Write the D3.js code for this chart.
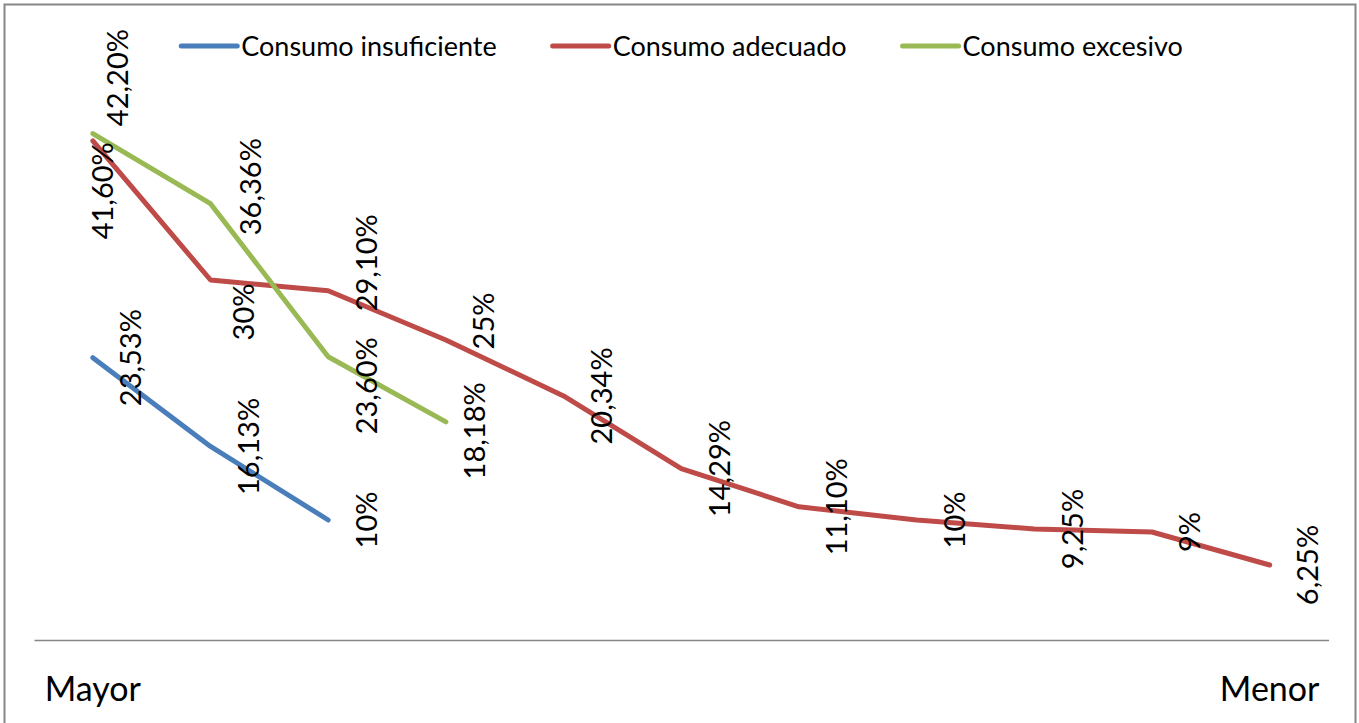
<!DOCTYPE html>
<html>
<head>
<meta charset="utf-8">
<script src="https://cdn.jsdelivr.net/npm/d3@7"></script>
<style>
  html, body { margin: 0; padding: 0; background: #fff; }
  svg { display: block; font-family: Lato, "Open Sans", sans-serif; }
</style>
</head>
<body>
<svg id="chart" width="1359" height="723"></svg>
<script>
// Ranking positions along the horizontal axis, from highest to lowest.
const ranks = [1, 2, 3, 4, 5, 6, 7, 8, 9, 10, 11];
const tickLabels = ["Mayor", "", "", "", "", "", "", "", "", "", "Menor"];

// Percentage of each consumption group at every rank position.
const seriesNames = ["Consumo insuficiente", "Consumo adecuado", "Consumo excesivo"];
const insuficiente = [23.53, 16.13, 10];
const adecuado = [41.6, 30, 29.1, 25, 20.34, 14.29, 11.1, 10, 9.25, 9, 6.25];
const excesivo = [42.2, 36.36, 23.6, 18.18];
const seriesColors = ["#4A7EBB", "#BE4B48", "#98B954"];

// Small nudges for data labels that would otherwise collide: [series, index, dx, dy].
const labelNudges = [
  [2, 0, -13, -56],
  [1, 0, -28, 50],
  [2, 1, 2, -17],
  [1, 1, -5, 32],
  [1, 2, 0, -28],
  [2, 2, 0, 29],
  [1, 3, 0, -19],
  [2, 3, -9, 9]
];

const svg = d3.select("#chart");

// Chart border
svg.append("rect")
  .attr("x", 4.5).attr("y", 4.5)
  .attr("width", 1351).attr("height", 740)
  .attr("fill", "#fff").attr("stroke", "#878787").attr("stroke-width", 2);

const plot = { left: 34, right: 1328.5, top: 40, bottom: 640 };

const x = d3.scaleBand().domain(ranks).range([plot.left, plot.right]);
const y = d3.scaleLinear().domain([0, 50]).range([plot.bottom, plot.top]);
const cx = r => x(r) + x.bandwidth() / 2;

// Category axis
const xAxis = svg.append("g")
  .attr("transform", `translate(0,${plot.bottom})`)
  .call(d3.axisBottom(x).tickSize(0).tickPadding(37)
    .tickFormat((d, i) => tickLabels[i]));
xAxis.select(".domain").attr("stroke", "#868686").attr("stroke-width", 1.5);
xAxis.selectAll("text")
  .attr("font-family", "Lato, sans-serif")
  .attr("font-size", 34)
  .attr("fill", "#000");

const allSeries = [insuficiente, adecuado, excesivo];

const line = d3.line()
  .x((d, i) => cx(ranks[i]))
  .y(d => y(d));

allSeries.forEach((vals, s) => {
  svg.append("path")
    .datum(vals)
    .attr("d", line)
    .attr("fill", "none")
    .attr("stroke", seriesColors[s])
    .attr("stroke-width", 5)
    .attr("stroke-linejoin", "round")
    .attr("stroke-linecap", "round");
});

// Data labels, rotated to read upward, placed to the right of each point
const fmt = v => (Number.isInteger(v) ? String(v) : v.toFixed(2).replace(".", ",")) + "%";
const labelSize = 29;
const labelGap = 38;

allSeries.forEach((vals, s) => {
  vals.forEach((v, i) => {
    const nudge = labelNudges.find(n => n[0] === s && n[1] === i);
    const dx = labelGap + (nudge ? nudge[2] : 0);
    const dy = nudge ? nudge[3] : 0;
    const px = cx(ranks[i]) + dx + labelSize * 0.36;
    const py = y(v) + dy;
    svg.append("text")
      .attr("transform", `translate(${px},${py}) rotate(-90)`)
      .attr("text-anchor", "middle")
      .attr("font-size", labelSize)
      .attr("fill", "#000")
      .text(fmt(v));
  });
});

// Legend across the top
const legendSize = 27;
const legend = svg.append("g").attr("transform", "translate(0,46)");
const items = seriesNames.map((name, s) => {
  const g = legend.append("g");
  g.append("line")
    .attr("x1", 0).attr("x2", 56)
    .attr("stroke", seriesColors[s]).attr("stroke-width", 5)
    .attr("stroke-linecap", "round");
  const t = g.append("text")
    .attr("x", 60).attr("y", legendSize * 0.36)
    .attr("font-size", legendSize)
    .attr("fill", "#000")
    .text(name);
  return { g, w: 60 + t.node().getComputedTextLength() };
});
const gap = 56;
const total = d3.sum(items, d => d.w) + gap * (items.length - 1);
let lx = 682 - total / 2;
items.forEach(it => {
  it.g.attr("transform", `translate(${lx},0)`);
  lx += it.w + gap;
});
</script>
</body>
</html>
